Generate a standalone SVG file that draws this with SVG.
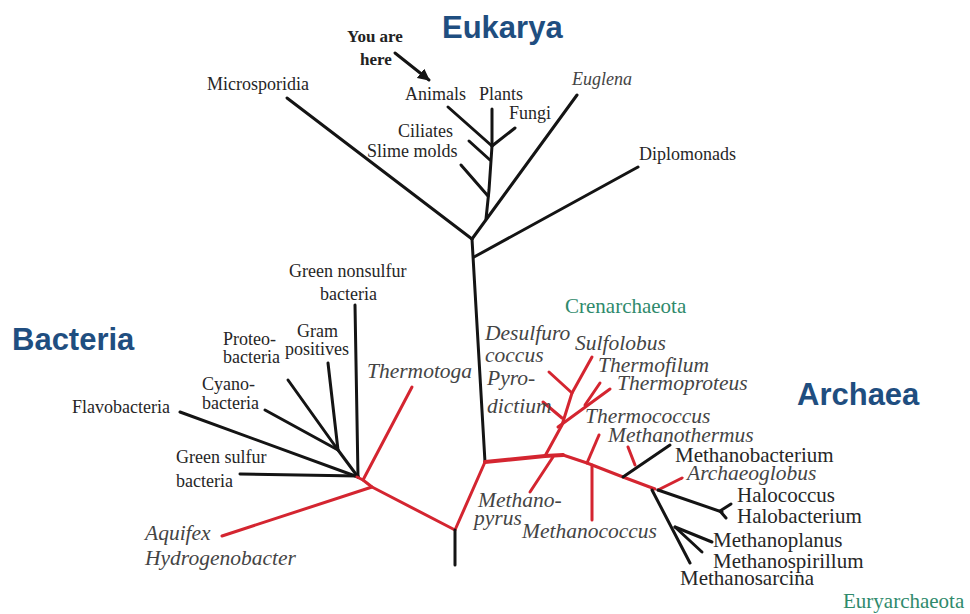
<svg xmlns="http://www.w3.org/2000/svg" width="970" height="614" viewBox="0 0 970 614">
<style>
.lbl{font-family:"Liberation Serif","Times New Roman",serif;fill:#262626}
.e{font-size:18px}
.a{font-size:21px}
.it{font-style:italic;fill:#444}
.ai{font-size:21.5px;font-style:italic;fill:#444}
.bold{font-weight:bold;font-size:17px;fill:#222}
.dom{font-family:"Liberation Sans",Arial,sans-serif;font-weight:bold;font-size:31px;fill:#1f4e80}
.grp{font-family:"Liberation Serif","Times New Roman",serif;font-size:21px;fill:#2f8a6c}
.k{stroke:#141414;stroke-width:3;fill:none;stroke-linecap:round;stroke-linejoin:round}
.r{stroke:#d42530;stroke-width:3;fill:none;stroke-linecap:round;stroke-linejoin:round}
</style>
<defs>
<marker id="ah" viewBox="0 0 10 10" refX="9" refY="5" markerWidth="4" markerHeight="4" orient="auto">
<path d="M0,0 L10,5 L0,10 z" fill="#141414"/>
</marker>
</defs>
<rect width="970" height="614" fill="#ffffff"/>
<g id="connectors">
<!-- Eukarya -->
<path class="k" d="M472,239 L485,462"/>
<path class="k" d="M287,98 L472,239"/>
<path class="k" d="M577,95 L472,239"/>
<path class="k" d="M486,219 L489,190 L492,146 L492,109"/>
<path class="k" d="M461,165 L488,196"/>
<path class="k" d="M469,141 L490,160"/>
<path class="k" d="M448,107 L492,146"/>
<path class="k" d="M515,128 L492,146"/>
<path class="k" d="M474,257 L638,167"/>
<path class="k" d="M395,53 L429,80" marker-end="url(#ah)"/>
<!-- Bacteria -->
<path class="k" d="M355,305 L358,477"/>
<path class="k" d="M328,363 L338,450"/>
<path class="k" d="M288,380 L338,450"/>
<path class="k" d="M265,410 L338,450 L358,477"/>
<path class="k" d="M180,412 L358,477"/>
<path class="k" d="M240,474 L358,476"/>
<path class="r" d="M412,387 L363,480"/>
<path class="r" d="M357,477 L363,480 L372,487 L455,530 L485,462"/>
<path class="r" d="M222,536 L372,487"/>
<path class="k" d="M455,530 L455,565"/>
<!-- Archaea -->
<path class="r" d="M485,462 L545,456 L563,455" style="stroke-width:4"/>
<path class="r" d="M563,455 L587,463 L623,477 L655,489"/>
<path class="r" d="M545,456 L562,425 L572,393 L592,357"/>
<path class="r" d="M549,372 L572,393"/>
<path class="r" d="M543,402 L562,418"/>
<path class="r" d="M558,427 L610,389"/>
<path class="r" d="M585,405 L600,383"/>
<path class="r" d="M553,457 L530,492"/>
<path class="r" d="M592,465 L592,520"/>
<path class="r" d="M599,435 L587,463"/>
<path class="r" d="M628,447 L635,465"/>
<path class="r" d="M658,490 L682,478"/>
<path class="k" d="M623,477 L670,445"/>
<path class="k" d="M658,490 L722,512"/>
<path class="k" d="M731,504 L720,511 L726,518"/>
<path class="k" d="M652,490 L690,563"/>
<path class="k" d="M675,527 L712,542"/>
<path class="k" d="M675,527 L702,552"/>
</g>
<g id="domain-eukarya"><text class="dom" x="442" y="38">Eukarya</text></g>
<g id="domain-bacteria"><text class="dom" x="12" y="350">Bacteria</text></g>
<g id="domain-archaea"><text class="dom" x="797" y="405">Archaea</text></g>
<g id="you-are-here"><text class="lbl bold" x="347" y="42">You are</text><text class="lbl bold" x="360" y="65">here</text></g>
<g id="microsporidia"><text class="lbl e" x="207" y="90">Microsporidia</text></g>
<g id="animals"><text class="lbl e" x="405" y="100">Animals</text></g>
<g id="plants"><text class="lbl e" x="479" y="100">Plants</text></g>
<g id="fungi"><text class="lbl e" x="509" y="119">Fungi</text></g>
<g id="ciliates"><text class="lbl e" x="398" y="137">Ciliates</text></g>
<g id="slime-molds"><text class="lbl e" x="367" y="157">Slime molds</text></g>
<g id="euglena"><text class="lbl e it" x="572" y="85">Euglena</text></g>
<g id="diplomonads"><text class="lbl e" x="639" y="160">Diplomonads</text></g>
<g id="green-nonsulfur"><text class="lbl e" x="289" y="277">Green nonsulfur</text><text class="lbl e" x="320" y="300">bacteria</text></g>
<g id="gram-positives"><text class="lbl e" x="297" y="337">Gram</text><text class="lbl e" x="285" y="355">positives</text></g>
<g id="proteobacteria"><text class="lbl e" x="223" y="345">Proteo-</text><text class="lbl e" x="223" y="363">bacteria</text></g>
<g id="cyanobacteria"><text class="lbl e" x="202" y="390">Cyano-</text><text class="lbl e" x="202" y="409">bacteria</text></g>
<g id="flavobacteria"><text class="lbl e" x="72" y="413">Flavobacteria</text></g>
<g id="green-sulfur"><text class="lbl e" x="176" y="463">Green sulfur</text><text class="lbl e" x="176" y="487">bacteria</text></g>
<g id="thermotoga"><text class="lbl ai" x="367" y="378">Thermotoga</text></g>
<g id="aquifex"><text class="lbl ai" x="145" y="540">Aquifex</text><text class="lbl ai" x="145" y="565">Hydrogenobacter</text></g>
<g id="crenarchaeota"><text class="grp" x="565" y="313">Crenarchaeota</text></g>
<g id="desulfurococcus"><text class="lbl ai" x="485" y="340">Desulfuro</text><text class="lbl ai" x="485" y="362">coccus</text></g>
<g id="sulfolobus"><text class="lbl ai" x="575" y="350">Sulfolobus</text></g>
<g id="thermofilum"><text class="lbl ai" x="598" y="372">Thermofilum</text></g>
<g id="thermoproteus"><text class="lbl ai" x="617" y="390">Thermoproteus</text></g>
<g id="pyrodictium"><text class="lbl ai" x="487" y="385">Pyro-</text><text class="lbl ai" x="487" y="413">dictium</text></g>
<g id="thermococcus"><text class="lbl ai" x="585" y="423">Thermococcus</text></g>
<g id="methanothermus"><text class="lbl ai" x="608" y="442">Methanothermus</text></g>
<g id="methanobacterium"><text class="lbl a" x="675" y="462">Methanobacterium</text></g>
<g id="archaeoglobus"><text class="lbl ai" x="687" y="480">Archaeoglobus</text></g>
<g id="halococcus"><text class="lbl a" x="737" y="502">Halococcus</text></g>
<g id="halobacterium"><text class="lbl a" x="737" y="523">Halobacterium</text></g>
<g id="methanoplanus"><text class="lbl a" x="713" y="547">Methanoplanus</text></g>
<g id="methanospirillum"><text class="lbl a" x="713" y="568">Methanospirillum</text></g>
<g id="methanosarcina"><text class="lbl a" x="680" y="585">Methanosarcina</text></g>
<g id="methanopyrus"><text class="lbl ai" x="478" y="507">Methano-</text><text class="lbl ai" x="474" y="525">pyrus</text></g>
<g id="methanococcus"><text class="lbl ai" x="522" y="538">Methanococcus</text></g>
<g id="euryarchaeota"><text class="grp" x="843" y="608">Euryarchaeota</text></g>
</svg>
